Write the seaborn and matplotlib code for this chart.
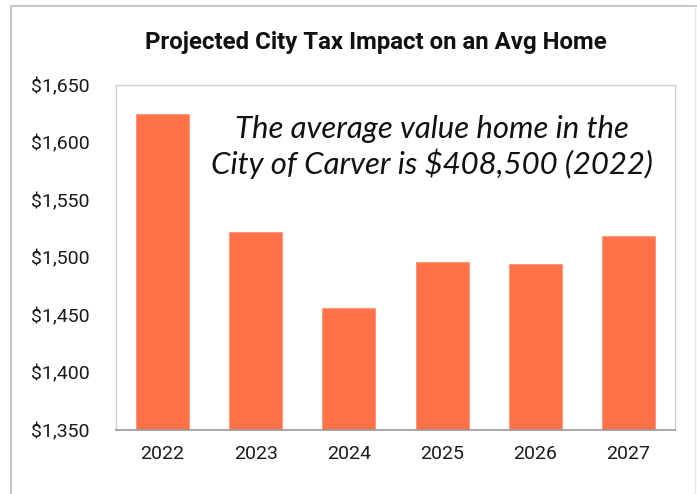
import pandas as pd
import seaborn as sns
import matplotlib.pyplot as plt
import matplotlib.lines as mlines
from matplotlib.ticker import FuncFormatter

years = ['2022', '2023', '2024', '2025', '2026', '2027']
tax = [1625, 1522, 1456, 1496, 1494, 1519]

df = pd.DataFrame({'year': years, 'tax': tax})

sns.set_style('white')
plt.rcParams['font.family'] = ['Roboto', 'DejaVu Sans']

W, H = 697, 494
fig = plt.figure(figsize=(W / 100, H / 100), dpi=100)
ax = fig.add_axes([116 / W, 1 - 430 / H, (675 - 116) / W, (430 - 85) / H])

sns.barplot(data=df, x='year', y='tax', color='#ff7148', saturation=1,
            width=0.57, edgecolor='#ff9a7c', linewidth=0.8, ax=ax)

ax.set_ylim(1350, 1650)
ax.set_yticks(range(1350, 1651, 50))
ax.yaxis.set_major_formatter(FuncFormatter(lambda v, p: f'${v:,.0f}'))
ax.set_xlabel('')
ax.set_ylabel('')
ax.tick_params(axis='both', length=0, labelsize=14, colors='#1a1a1a')
ax.tick_params(axis='y', pad=19)
ax.tick_params(axis='x', pad=11)

for s in ['left', 'top', 'right']:
    ax.spines[s].set_color('#d0d0d0')
    ax.spines[s].set_linewidth(1)
ax.spines['bottom'].set_color('#9a9a9a')
ax.spines['bottom'].set_linewidth(1.2)

fig.text(376 / W, 1 - 42 / H, 'Projected City Tax Impact on an Avg Home',
         ha='center', va='center', fontsize=17.3, fontweight='bold', color='#111111')

ax.text(0.565, 0.82, 'The average value home in the\nCity of Carver is $408,500 (2022)',
        transform=ax.transAxes, ha='center', va='center', fontsize=22.4,
        style='italic', family=['Lato', 'DejaVu Sans'], linespacing=1.22, color='#111111')

# outer frame
fig.add_artist(mlines.Line2D([11 / W, 11 / W], [0, 1 - 6 / H], color='#c8c8c8', lw=1.5))
fig.add_artist(mlines.Line2D([11 / W, 1], [1 - 6 / H, 1 - 6 / H], color='#c8c8c8', lw=1.5))
fig.add_artist(mlines.Line2D([695 / W, 695 / W], [0, 1 - 6 / H], color='#e6e6e6', lw=1))

fig.savefig('out.png', dpi=100)
plt.close()
